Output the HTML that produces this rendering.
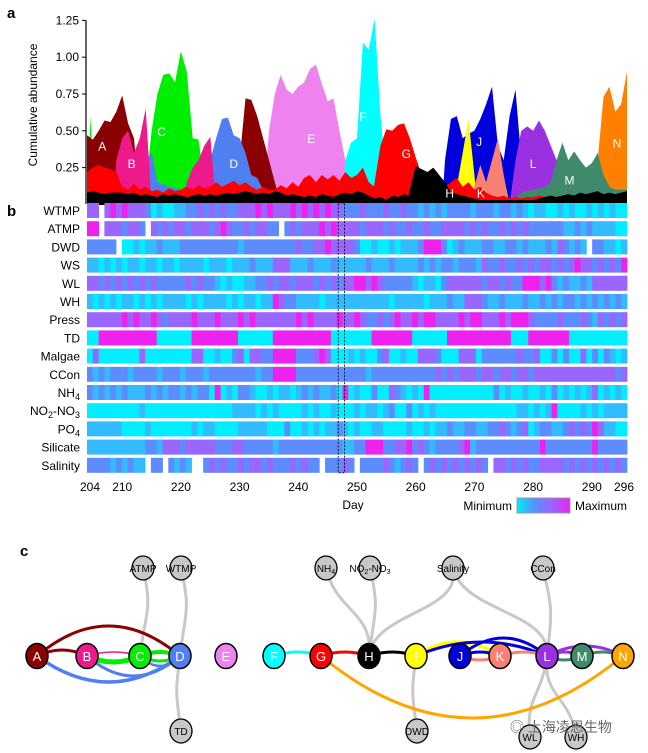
<!DOCTYPE html>
<html><head><meta charset="utf-8"><style>
html,body{margin:0;padding:0;background:#fff}
svg{display:block;font-family:"Liberation Sans",Arial,sans-serif}
</style></head><body>
<svg id="fig" width="648" height="753" viewBox="0 0 648 753">
<text x="7" y="18" font-size="15" font-weight="bold">a</text>
<text x="7" y="216" font-size="15" font-weight="bold">b</text>
<text x="20" y="556" font-size="15" font-weight="bold">c</text>
<g id="areas"></g>
<g id="alabels"></g>
<g id="yaxis"></g>
<text transform="translate(37,105) rotate(-90)" font-size="12" text-anchor="middle">Cumulative abundance</text>
<g id="heat"></g>
<g id="rowlabels" font-size="12" text-anchor="end"></g>
<g id="xticks" font-size="12" text-anchor="middle"></g>
<text x="353" y="509" font-size="12" text-anchor="middle">Day</text>
<g>
<text x="512" y="510" font-size="12" text-anchor="end">Minimum</text>
<defs><linearGradient id="lg" x1="0" x2="1"><stop offset="0" stop-color="#00eeff"/><stop offset="0.35" stop-color="#5c8cff"/><stop offset="0.65" stop-color="#9966ff"/><stop offset="1" stop-color="#ee22ee"/></linearGradient></defs>
<rect x="517" y="498" width="53" height="15" fill="url(#lg)" stroke="#999"/>
<text x="575" y="510" font-size="12">Maximum</text>
</g>
<g id="net"></g>
<text x="510" y="732" font-size="14" fill="#666">◎ 上海凌恩生物</text>
</svg>
<script>
const NS='http://www.w3.org/2000/svg';
// ---------- Panel a data ----------
const yTicks=[0.25,0.5,0.75,1.0,1.25];
const yTickLabels=['0.25','0.50','0.75','1.00','1.25'];
const seriesE={days:[234,235,236,237,238,239,240,241,242,243,244,245,246,247,248,249],vals:[0,0.5,0.75,0.88,0.78,0.75,0.8,0.83,0.92,0.95,0.82,0.7,0.72,0.5,0.3,0]};
const seriesC={days:[204,204.6,205.2,213.5,214,215,216,217,218,219,220,221,222,223,224,224.5],vals:[0,0.6,0,0,0.1,0.5,0.75,0.88,0.89,0.83,1.04,0.9,0.45,0.44,0.15,0]};
const seriesF={days:[247.5,248,249,250,251,252,253,254,255,255.5],vals:[0,0.3,0.42,0.45,1.1,1.05,1.26,0.6,0.2,0]};
const seriesA={days:[204,205,206,207,208,209,210,211,212,213],vals:[0.47,0.44,0.5,0.57,0.56,0.63,0.74,0.55,0.45,0]};
const seriesA2={days:[229.5,230,231,232,233,234,235,236,237],vals:[0,0.3,0.72,0.71,0.6,0.45,0.3,0.15,0]};
const seriesD={days:[208,209,211,213,215,216,218,220,222,224,225,226,227,228,229,230,231,232,233,234,235],vals:[0,0.18,0.15,0.25,0.35,0.15,0.12,0.1,0.15,0.2,0.3,0.45,0.58,0.59,0.47,0.45,0.35,0.2,0.18,0.1,0]};
const seriesB={days:[208.5,209,210,211,212,213,214,215,220.5,221,222,223,224,225,226],vals:[0,0.3,0.45,0.5,0.35,0.45,0.65,0,0,0.15,0.25,0.3,0.4,0.46,0]};
const seriesG={days:[252.5,253,254,255,256,257,258,259,260,261,262],vals:[0,0.15,0.4,0.51,0.5,0.54,0.55,0.45,0.32,0.2,0]};
const seriesJ={days:[264.5,265,266,267,268,269,270,271,272,273,274,275,276,277,278,279,292,293,294,295,296],vals:[0,0.3,0.58,0.6,0.45,0.48,0.5,0.58,0.68,0.8,0.4,0.3,0.6,0.78,0.3,0,0,0.23,0.22,0.2,0.2]};
const seriesI={days:[266,267,268,269,270,270.5],vals:[0,0.12,0.35,0.58,0.2,0]};
const seriesK={days:[269,270,271,272,273,274,275,276],vals:[0,0.12,0.27,0.15,0.3,0.45,0.2,0]};
const seriesL={days:[276,277,278,279,280,281,282,283,284,285],vals:[0,0.3,0.5,0.53,0.5,0.57,0.5,0.4,0.3,0]};
const seriesN={days:[289.5,290,291,292,293,294,295,296],vals:[0,0.25,0.3,0.73,0.8,0.63,0.68,0.9]};
const seriesM={days:[276,278,280,282,283,284,285,286,287,288,289,290,291,292,293,294,296],vals:[0,0.08,0.1,0.12,0.15,0.3,0.42,0.3,0.36,0.3,0.25,0.28,0.35,0.2,0.12,0.1,0.1]};
const seriesH={days:[258.5,259,260,261,262,263,264,265,266,266.5],vals:[0,0.1,0.26,0.24,0.22,0.25,0.2,0.15,0.08,0]};
const redLow=[0.22,0.25,0.27,0.25,0.24,0.22,0.12,0.1,0.14,0.1,0.12,0.09,0.1,0.08,0.11,0.09,0.1,0.12,0.1,0.13,0.11,0.12,0.15,0.12,0.14,0.16,0.13,0.15,0.12,0.1,0.12,0.1,0.1,0.13,0.11,0.15,0.12,0.18,0.2,0.15,0.2,0.17,0.2,0.16,0.22,0.18,0.2,0.25,0.15,0.12,0.1,0.12,0.1,0.12,0.1,0.12,0.15,0.12,0.1,0.12,0.1,0.12,0.15,0.18,0.12,0.15,0.1,0.12,0.08,0.06,0.05,0.06,0.04,0.05,0.04,0.05,0.05,0.06,0.05,0.04,0.05,0.04,0.05,0.06,0.05,0.04,0.05,0.06,0.05,0.04,0.05,0.06,0.05];
const blackLow=[0.08,0.09,0.08,0.07,0.08,0.08,0.08,0.07,0.08,0.06,0.07,0.06,0.05,0.07,0.06,0.07,0.06,0.05,0.06,0.07,0.06,0.07,0.06,0.07,0.08,0.07,0.08,0.09,0.08,0.07,0.08,0.07,0.09,0.08,0.06,0.07,0.06,0.05,0.06,0.05,0.07,0.06,0.05,0.07,0.08,0.07,0.09,0.08,0.06,0.04,0.05,0.03,0.06,0.05,0.07,0.06,0.08,0.07,0.08,0.09,0.08,0.09,0.08,0.07,0.06,0.05,0.04,0.03,0.02,0.02,0.02,0.03,0.02,0.03,0.02,0.03,0.03,0.04,0.05,0.06,0.05,0.06,0.07,0.06,0.08,0.07,0.08,0.09,0.07,0.08,0.07,0.08,0.09];
// ---------- Panel b data ----------
const dayTicks=[204,210,220,230,240,250,260,270,280,290,296];
const rowNames=['WTMP','ATMP','DWD','WS','WL','WH','Press','TD','Malgae','CCon','NH4','NO2-NO3','PO4','Silicate','Salinity'];
const rowWTMP='33-343433320100112232323223334343334343434332223222322322121212222122212212101100101001010100';
const rowATMP='44-3332332-3232332333234322323322-232333434333323332322322322333323232232323222222112121111000';
const rowDWD='22222-00101121112222222222122222222232233433332001001011124442012111221122121112132121-221101';
const rowWS='1101010110110110111101110111211133311121112111112111211112121221222132232232323323234332323240';
const rowWL='3323232323232222232322101001122323323332323233443432222210110233333323323224443421211213333333';
const rowWH='1010101101010111101011110101101143221111011111111111011111011121133321121112112121221212121212';
const rowPress='333333434334323333433343334343333333434333343343223234334344333343443334344432222322232132323';
const rowTD='0044444444440000004444444400000044444444440000000444444400000044444444444000444444400000000004';
const rowMalgae='0300000003000000003300100230332244442223430001010023001003332000333022222232230020200302021011';
const rowCCon='2121222122221222122212222222212244442222222222221222222222223232333233233233233333333333333233';
const rowNH4='2121212111212122121220401022100101101212112040100200321010400000000000201001001020101013010101';
const rowNO2='000000000100000000000000011110101000010100100010110120020101000000000000001101014000010101';
const rowPO4='111111000010000000101100001111100020010101121010011000010010112112211223212301221123232431100';
const rowSilicate='111111111122133323333322233222221222222222221122444223342321222234122222222222422222222422222';
const rowSalinity='2222121211-22-2121--23232232332322232322-22232-2222321232-23232323232-33232322333323232323232';
const heatRows=[rowWTMP,rowATMP,rowDWD,rowWS,rowWL,rowWH,rowPress,rowTD,rowMalgae,rowCCon,rowNH4,rowNO2,rowPO4,rowSilicate,rowSalinity];
const levelColors=['#00eeff','#33bbff','#5c8cff','#9966ff','#ee22ee'];
// ---------- Panel c data ----------
const clusterNodes=['A','B','C','D','E','F','G','H','I','J','K','L','M','N'];
const clusterX=[37,87,140,180,226,274,321,369,416,460,500,547,582,623];
const clusterColors=['#8b0000','#ee1a8c','#00ee00','#4f7ff0','#ee82ee','#00ffff','#ff0000','#000000','#ffff00','#0000dd','#fa8072','#9a30e0','#3f8a6a','#ffa500'];
const envNodes=['ATMP','WTMP','TD','NH4','NO2-NO3','Salinity','CCon','DWD','WL','WH'];
const envX=[143,181,181,326,370,453,543,417,530,576];
const envY=[568,568,731,568,568,568,568,731,737,737];
const envLinks=[['ATMP','C'],['WTMP','D'],['TD','D'],['NH4','H'],['NO2-NO3','H'],['Salinity','H'],['Salinity','L'],['CCon','L'],['DWD','I'],['WL','L'],['WH','L']];
const clusterLinks=[['A','D',-30,'#8b0000',3],['A','B',-6,'#8b0000',3],['B','C',-4,'#ee1a8c',1.5],['B','C',6,'#00ee00',5],['C','D',-4,'#00ee00',4],['C','D',5,'#00ee00',3],['A','D',26,'#4f7ff0',3.5],['B','D',20,'#4f7ff0',3],['C','D',10,'#4f7ff0',2.5],['F','G',-4,'#00ffff',3],['G','H',-4,'#ff0000',3],['H','I',-4,'#000000',3],['I','K',-14,'#ffff00',3.5],['J','K',-4,'#0000dd',3],['J','K',4,'#fa8072',3],['J','L',-18,'#0000dd',3],['I','L',-14,'#0000dd',3],['K','L',-4,'#fa8072',3],['L','M',-4,'#9a30e0',3],['L','N',-10,'#9a30e0',3],['M','N',-4,'#3f8a6a',3],['L','M',4,'#3f8a6a',3],['G','N',62,'#ffa500',3]];

// ---------- scales ----------
const X0=87,X1=627,D0=204,D1=296;
const xDay=d=>X0+(d-D0)*(X1-X0)/(D1-D0);
const yVal=v=>204.4-v*147.2;
const cw=(X1-X0)/93;
function mk(tag,attrs,parent){const e=document.createElementNS(NS,tag);for(const k in attrs)e.setAttribute(k,attrs[k]);parent.appendChild(e);return e;}

// ---------- areas ----------
const areas=document.getElementById('areas');
function areaPath(days,vals){let d='M'+xDay(days[0]).toFixed(1)+','+yVal(0);for(let i=0;i<days.length;i++)d+='L'+xDay(days[i]).toFixed(1)+','+yVal(vals[i]).toFixed(1);d+='L'+xDay(days[days.length-1]).toFixed(1)+','+yVal(0)+'Z';return d;}
const dailyDays=redLow.map((_,i)=>D0+i);
const order=[['E',seriesE,'#ee82ee'],['C',seriesC,'#00ee00'],['F',seriesF,'#00ffff'],['A',seriesA,'#8b0000'],['A2',seriesA2,'#8b0000'],['D',seriesD,'#4f7ff0'],['B',seriesB,'#ee1a8c'],['G',seriesG,'#ff0000'],['J',seriesJ,'#0000dd'],['I',seriesI,'#ffff00'],['K',seriesK,'#fa8072'],['L',seriesL,'#9a30e0'],['N',seriesN,'#ff8000'],['M',seriesM,'#3f8a6a']];
order.forEach(([n,s,c])=>{
  const p=mk('path',{d:areaPath(s.days,s.vals),fill:c},areas);
  
  
});
const pr=mk('path',{d:areaPath(dailyDays,redLow),fill:'#ff0000'},areas);


const ph=mk('path',{d:areaPath(seriesH.days,seriesH.vals),fill:'#000'},areas);


const pb=mk('path',{d:areaPath(dailyDays,blackLow),fill:'#000'},areas);


mk('rect',{x:X0,y:200,width:X1-X0,height:5,fill:'#000'},areas);
// labels
const labDays=[206.6,211.6,216.7,229,242.2,251,258.4,265.8,268.8,270.8,271.1,280,286.2,294.3];
const labVals=[0.4,0.28,0.5,0.28,0.45,0.6,0.35,0.08,0.25,0.43,0.08,0.28,0.17,0.42];
const labTxt=['A','B','C','D','E','F','G','H','I','J','K','L','M','N'];
const al=document.getElementById('alabels');
labTxt.forEach((t,i)=>{const e=mk('text',{x:xDay(labDays[i]),y:yVal(labVals[i])+5,fill:'#fff','font-size':12,'text-anchor':'middle'},al);e.textContent=t;

});
// y axis
const ya=document.getElementById('yaxis');
mk('line',{x1:X0-1,y1:yVal(1.25),x2:X0-1,y2:204,stroke:'#000','stroke-width':1.2},ya);
yTicks.forEach((v,i)=>{mk('line',{x1:X0-5,x2:X0-1,y1:yVal(v),y2:yVal(v),stroke:'#000'},ya);
const t=mk('text',{x:X0-8,y:yVal(v)+4,'font-size':12,'text-anchor':'end'},ya);t.textContent=yTickLabels[i];

});

// ---------- heatmap ----------
const heat=document.getElementById('heat');
const RT=203,RP=18.2,RH=15;
heatRows.forEach((row,r)=>{
  let s=row; while(s.length<93)s+=s[s.length-1]; s=s.slice(0,93);
  for(let i=0;i<93;i++){const ch=s[i]; if(ch==='-')continue;
    mk('rect',{x:(X0+i*cw).toFixed(2),y:RT+r*RP,width:(cw+0.4).toFixed(2),height:RH,fill:levelColors[+ch]},heat);}
});
mk('rect',{x:xDay(246.8),y:RT,width:cw*1.1,height:RP*14+RH,fill:'none',stroke:'#000','stroke-dasharray':'2,1.5','stroke-width':0.8},heat);
const rl=document.getElementById('rowlabels');
rowNames.forEach((n,r)=>{const y=RT+r*RP+12;const t=mk('text',{x:80,y:y},rl);
  if(n==='NH4'){t.innerHTML='NH<tspan font-size="9" dy="3">4</tspan>';}
  else if(n==='NO2-NO3'){t.innerHTML='NO<tspan font-size="9" dy="3">2</tspan><tspan dy="-3">-NO</tspan><tspan font-size="9" dy="3">3</tspan>';}
  else if(n==='PO4'){t.innerHTML='PO<tspan font-size="9" dy="3">4</tspan>';}
  else t.textContent=n;
  
  });
const xt=document.getElementById('xticks');
dayTicks.forEach(d=>{const t=mk('text',{x:xDay(d)+(d===204?3:d===296?-3:0),y:491},xt);t.textContent=d;

});

// ---------- network ----------
const net=document.getElementById('net');
const NY=656;
const cPos=n=>clusterX[clusterNodes.indexOf(n)];
const gl=mk('g',{},net);
envLinks.forEach(([e,c])=>{const i=envNodes.indexOf(e);const ex=envX[i],ey=envY[i],cx=cPos(c);
  const midY=(ey+NY)/2;
  const p=mk('path',{d:`M${ex},${ey} C${ex+(ey<NY?10:-5)},${midY} ${cx+(ey<NY?5:-5)},${midY} ${cx},${NY}`,fill:'none',stroke:'#c8c8c8','stroke-width':3},gl);
  
  });
clusterLinks.forEach(([a,b,h,col,w])=>{const x1=cPos(a),x2=cPos(b);
  const p=mk('path',{d:`M${x1},${NY} Q${(x1+x2)/2},${NY+h*2} ${x2},${NY}`,fill:'none',stroke:col,'stroke-width':w},net);
  
  });
envNodes.forEach((n,i)=>{const g=mk('g',{},net);
  
  
  mk('ellipse',{cx:envX[i],cy:envY[i],rx:11,ry:12,fill:'#c8c8c8',stroke:'#000','stroke-width':1.3},g);
  const t=mk('text',{x:envX[i],y:envY[i]+4,'font-size':10,'text-anchor':'middle'},g);
  if(n==='NH4')t.innerHTML='NH<tspan font-size="7" dy="2">4</tspan>';
  else if(n==='NO2-NO3')t.innerHTML='NO<tspan font-size="7" dy="2">2</tspan><tspan dy="-2">-NO</tspan><tspan font-size="7" dy="2">3</tspan>';
  else t.textContent=n;});
clusterNodes.forEach((n,i)=>{const g=mk('g',{},net);
  
  
  mk('ellipse',{cx:clusterX[i],cy:NY,rx:11,ry:12.5,fill:clusterColors[i],stroke:'#000','stroke-width':1.5},g);
  const t=mk('text',{x:clusterX[i],y:NY+5,'font-size':13,'text-anchor':'middle',fill:(n==='I'?'#fff':'#fff')},g);t.textContent=n;});
</script>
</body></html>
